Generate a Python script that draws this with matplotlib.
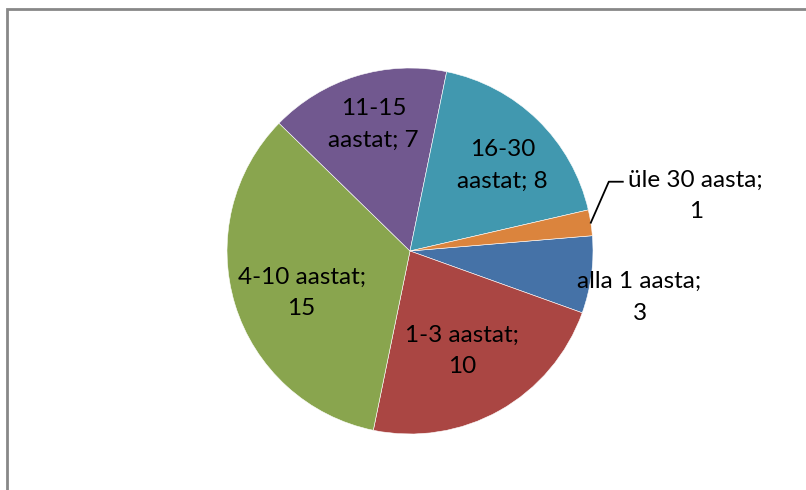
import numpy as np
import matplotlib.pyplot as plt
from matplotlib.patches import Rectangle

labels = ['alla 1 aasta', '1-3 aastat', '4-10 aastat', '11-15 aastat', '16-30 aastat', 'üle 30 aasta']
values = [3, 10, 15, 7, 8, 1]
label_text = ['alla 1 aasta;\n3', '1-3 aastat;\n10', '4-10 aastat;\n15',
              '11-15\naastat; 7', '16-30\naastat; 8', 'üle 30 aasta;\n1']

colors = ['#4572A7', '#AA4643', '#89A54E', '#71588F', '#4198AF', '#DB843D']
label_r = [1.28, 0.615, 0.635, 0.72, 0.69, 1.59]      # radial position of each label (in radii)
label_shift = [4, 2, -4, 1, 3, -2]                        # small angular tweaks (deg)

W, H = 806, 490
fig = plt.figure(figsize=(W / 100, H / 100), dpi=100)
ax = fig.add_axes([0, 0, 1, 1])

cx, cy, R = 410, H - 251, 183
wedges, _ = ax.pie(values, colors=colors, startangle=4.8, counterclock=False,
                   center=(cx, cy), radius=R,
                   wedgeprops=dict(edgecolor='white', linewidth=0.4))
ax.set_xlim(0, W)
ax.set_ylim(0, H)
ax.set_aspect('equal')
ax.axis('off')

font = dict(family=['Lato', 'DejaVu Sans'], fontsize=17.5, color='black',
            ha='center', va='center', linespacing=1.62)

for i, w in enumerate(wedges):
    mid = np.deg2rad((w.theta1 + w.theta2) / 2 - label_shift[i])
    tx = cx + label_r[i] * R * np.cos(mid)
    ty = cy + label_r[i] * R * np.sin(mid)
    ax.text(tx, ty, label_text[i], **font)

# leader line for the small slice
w = wedges[5]
mid = np.deg2rad((w.theta1 + w.theta2) / 2)
p0 = (cx + R * np.cos(mid), cy + R * np.sin(mid))
p1 = (p0[0] + 18, p0[1] + 41)
p2 = (p1[0] + 14, p1[1])
ax.plot([p0[0], p1[0], p2[0]], [p0[1], p1[1], p2[1]], color='black', lw=1.3)

# chart border (right and bottom edges fall outside the image)
fig.add_artist(Rectangle((7 / W, -0.2), 1.2, 1.2 - 9.5 / H, transform=fig.transFigure,
                         fill=False, edgecolor='#888888', linewidth=2))

fig.savefig('out.png', dpi=100)
